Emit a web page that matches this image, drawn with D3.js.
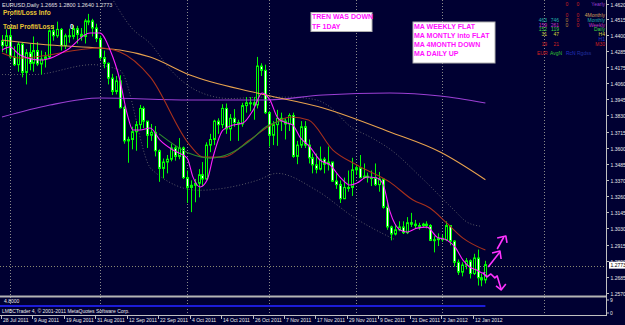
<!DOCTYPE html>
<html>
<head>
<meta charset="utf-8">
<script src="https://cdnjs.cloudflare.com/ajax/libs/d3/7.8.5/d3.min.js"></script>
<style>
  body { margin: 0; background: #000032; }
  svg { display: block; }
</style>
</head>
<body>
<div id="chart"></div>
<script>
// ---- data ----
var dateLabels = ["28 Jul 2011", "9 Aug 2011", "19 Aug 2011", "31 Aug 2011", "12 Sep 2011", "22 Sep 2011",
  "4 Oct 2011", "14 Oct 2011", "26 Oct 2011", "7 Nov 2011", "17 Nov 2011", "29 Nov 2011",
  "9 Dec 2011", "21 Dec 2011", "2 Jan 2012", "12 Jan 2012"];
var priceTicks = [1.4620, 1.4515, 1.4400, 1.4285, 1.4175, 1.4060, 1.3945, 1.3830, 1.3715, 1.3600,
  1.3485, 1.3370, 1.3260, 1.3145, 1.3030, 1.2915, 1.2800, 1.2685, 1.2570];
// month starts (bar index), used for the vertical grid
var monthBars = [2, 25, 47, 68, 90, 112, 138];

var opens = [1.4360,1.4325,1.4395,1.4245,1.4190,1.4335,1.4135,1.4275,1.4200,1.4290,1.4195,1.4230,1.4245,1.4430,1.4395,1.4440,1.4325,1.4395,1.4390,1.4445,
  1.4405,1.4390,1.4500,1.4500,1.4450,1.4375,1.4240,1.4200,1.4095,1.4000,1.4075,1.3885,1.3650,1.3660,1.3715,1.3765,1.3880,1.3790,1.3690,1.3710,
  1.3580,1.3455,1.3500,1.3520,1.3600,1.3540,1.3600,1.3390,1.3320,1.3335,1.3350,1.3410,1.3380,1.3620,1.3660,1.3790,1.3765,1.3880,1.3735,1.3810,
  1.3780,1.3770,1.3900,1.3920,1.3920,1.3905,1.4180,1.4150,1.3850,1.3690,1.3765,1.3810,1.3790,1.3770,1.3830,1.3540,1.3620,1.3750,1.3620,1.3530,
  1.3480,1.3450,1.3520,1.3485,1.3500,1.3365,1.3340,1.3240,1.3320,1.3320,1.3445,1.3460,1.3390,1.3400,1.3390,1.3390,1.3340,1.3380,1.3180,1.3040,
  1.2990,1.3020,1.3040,1.3000,1.3070,1.3060,1.3050,1.3050,1.3060,1.3050,1.2945,1.2950,1.2960,1.2950,1.3050,1.2940,1.2790,1.2720,1.2770,1.2800,
  1.2710,1.2820,1.2680,1.2665];
var highs = [1.4400,1.4440,1.4450,1.4320,1.4350,1.4350,1.4300,1.4340,1.4390,1.4350,1.4290,1.4280,1.4440,1.4470,1.4495,1.4450,1.4410,1.4445,1.4470,1.4465,
  1.4450,1.4515,1.4550,1.4515,1.4480,1.4395,1.4290,1.4205,1.4125,1.4110,1.4115,1.3900,1.3680,1.3750,1.3790,1.3905,1.3895,1.3790,1.3770,1.3755,
  1.3590,1.3525,1.3550,1.3630,1.3620,1.3670,1.3610,1.3440,1.3370,1.3380,1.3450,1.3500,1.3640,1.3700,1.3800,1.3810,1.3910,1.3915,1.3840,1.3875,
  1.3800,1.3920,1.3960,1.3960,1.3960,1.4245,1.4200,1.4190,1.3860,1.3790,1.3870,1.3850,1.3810,1.3845,1.3850,1.3650,1.3790,1.3790,1.3660,1.3560,
  1.3560,1.3610,1.3535,1.3610,1.3500,1.3420,1.3370,1.3390,1.3440,1.3530,1.3485,1.3550,1.3490,1.3425,1.3440,1.3490,1.3430,1.3380,1.3225,1.3050,
  1.3060,1.3080,1.3080,1.3110,1.3140,1.3090,1.3070,1.3070,1.3080,1.3060,1.2975,1.2995,1.2985,1.3080,1.3050,1.2945,1.2810,1.2790,1.2820,1.2810,
  1.2850,1.2880,1.2710,1.2800];
var lows = [1.4280,1.4270,1.4230,1.4180,1.4140,1.4100,1.4050,1.4150,1.4140,1.4180,1.4120,1.4170,1.4235,1.4360,1.4380,1.4290,1.4300,1.4345,1.4370,1.4340,
  1.4360,1.4340,1.4470,1.4390,1.4350,1.4225,1.4165,1.4050,1.3975,1.3980,1.3880,1.3630,1.3495,1.3590,1.3580,1.3730,1.3740,1.3600,1.3650,1.3540,
  1.3360,1.3385,1.3420,1.3505,1.3510,1.3520,1.3380,1.3210,1.3145,1.3215,1.3250,1.3330,1.3370,1.3570,1.3620,1.3700,1.3740,1.3700,1.3650,1.3750,
  1.3650,1.3750,1.3850,1.3860,1.3800,1.3880,1.4110,1.3840,1.3610,1.3620,1.3615,1.3720,1.3660,1.3720,1.3530,1.3485,1.3600,1.3600,1.3490,1.3420,
  1.3420,1.3440,1.3420,1.3440,1.3360,1.3310,1.3210,1.3260,1.3290,1.3260,1.3410,1.3385,1.3385,1.3355,1.3330,1.3330,1.3290,1.3170,1.3020,1.2945,
  1.2980,1.3010,1.2990,1.2990,1.3040,1.3030,1.3020,1.3040,1.3030,1.2940,1.2860,1.2905,1.2935,1.2940,1.2910,1.2760,1.2700,1.2690,1.2740,1.2675,
  1.2700,1.2625,1.2620,1.2640];
var closes = [1.4325,1.4395,1.4245,1.4190,1.4335,1.4135,1.4275,1.4200,1.4290,1.4195,1.4230,1.4245,1.4430,1.4395,1.4440,1.4325,1.4395,1.4390,1.4445,1.4405,
  1.4390,1.4500,1.4500,1.4450,1.4375,1.4240,1.4200,1.4095,1.4000,1.4075,1.3885,1.3650,1.3660,1.3715,1.3765,1.3880,1.3790,1.3690,1.3710,1.3580,
  1.3455,1.3500,1.3520,1.3600,1.3540,1.3600,1.3390,1.3320,1.3335,1.3350,1.3410,1.3380,1.3620,1.3660,1.3790,1.3765,1.3880,1.3735,1.3810,1.3780,
  1.3770,1.3900,1.3920,1.3920,1.3905,1.4180,1.4150,1.3850,1.3690,1.3765,1.3810,1.3790,1.3770,1.3830,1.3540,1.3620,1.3750,1.3620,1.3530,1.3480,
  1.3450,1.3520,1.3485,1.3500,1.3365,1.3340,1.3240,1.3320,1.3320,1.3445,1.3460,1.3390,1.3400,1.3390,1.3390,1.3340,1.3380,1.3180,1.3040,1.2990,
  1.3020,1.3040,1.3000,1.3070,1.3060,1.3050,1.3050,1.3060,1.3050,1.2945,1.2950,1.2960,1.2950,1.3050,1.2940,1.2790,1.2720,1.2770,1.2800,1.2710,
  1.2820,1.2680,1.2665,1.2773];

// moving averages as [bar, price]
var maFast = [[0,1.4294],[2,1.4315],[4.6,1.4258],[9.7,1.4223],[16.5,1.4294],[22.4,1.4414],[24.9,1.4414],[27.5,1.4294],[30,1.4081],
  [31.8,1.3847],[33.3,1.3727],[35.1,1.3727],[37.7,1.3741],[40.2,1.3656],[43.5,1.3585],[47.1,1.3528],[48.6,1.3393],[50.4,1.3323],
  [52.2,1.3372],[53.7,1.3535],[56.2,1.3727],[58.8,1.3762],[61.3,1.3776],[63.9,1.3868],[66.2,1.3989],[68.2,1.3939],[70.2,1.3812],
  [72.5,1.3776],[74,1.3762],[75.8,1.3677],[78.4,1.3606],[80.9,1.3514],[83.5,1.3479],[86,1.3394],[88.5,1.3337],[90.3,1.3351],
  [92.9,1.3394],[95.4,1.3387],[97,1.3340],[98.7,1.3150],[101.3,1.3018],[103.1,1.3004],[105.6,1.3032],[108.1,1.3039],[110.7,1.2968],
  [113.2,1.2947],[115.3,1.2897],[117.3,1.2805],[119.1,1.2755],[120.9,1.2734],[122.4,1.2713],[123,1.2720]];
var ma4Month = [[0,1.4365],[12.2,1.4329],[24.9,1.4308],[30,1.4294],[37.7,1.4244],[47.8,1.4117],[64.9,1.3989],[81.7,1.3883],
  [98.7,1.3713],[111.5,1.3571],[123,1.3375]];
var maYear = [[0,1.3819],[12.2,1.3904],[24.9,1.3954],[47.8,1.3940],[66.7,1.3940],[81.7,1.3975],[98.7,1.3989],[111.5,1.3968],[123,1.3918]];
var maMonth = [[0,1.4273],[4.6,1.4237],[24.9,1.4308],[30,1.4280],[37.7,1.4103],[47.8,1.3620],[51.2,1.3535],[56.2,1.3535],[63,1.3656],
  [68,1.3755],[73.5,1.3819],[78,1.3798],[84.2,1.3585],[90.3,1.3479],[98.7,1.3358],[104.6,1.3231],[108.9,1.3174],[113.2,1.3067],
  [117.3,1.2961],[123,1.2876]];
var maWeek = [[40,1.3700],[47.8,1.3560],[53,1.3528],[58,1.3560],[63,1.3650],[67.5,1.3755],[72,1.3800]];
var bandUpper = [[28,1.4660],[33,1.4450],[37.7,1.4340],[43,1.4150],[50,1.4000],[58,1.3950],[66,1.3960],[73.5,1.3960],[80,1.3940],
  [83.5,1.3890],[88.5,1.3755],[93.7,1.3677],[98.7,1.3592],[107.1,1.3379],[114.8,1.3166],[118.3,1.3075],[121.6,1.3046]];
var bandLower = [[0,1.4120],[8,1.4120],[23,1.4190],[30,1.4150],[38,1.3450],[50,1.3300],[64.9,1.3370],[70,1.3420],[80,1.3300],
  [90,1.3100],[100,1.2950]];

// hand drawn arrows on the right, [bar, price]
var arrowUp1 = [[123.7,1.2756],[126.7,1.2863]];
var arrowUp1Head = [[124.7,1.2856],[126.7,1.2870],[127.0,1.2813]];
var arrowUp2 = [[126.0,1.2884],[127.7,1.2969]];
var arrowUp2Head = [[126.0,1.2962],[128.2,1.2976],[128.5,1.2927]];
var arrowDown = [[122.4,1.2714],[123.4,1.2686],[124.4,1.2707],[125.4,1.2679],[126.0,1.2693],[127.0,1.2601]];
var arrowDownHead = [[125.7,1.2622],[127.0,1.2594],[128.2,1.2636]];

// info panel (top right)
var panelNames = ["Yearly", "4Monthly", "Monthly", "Weekly", "Daily", "H4", "H1", "M30"];
var panelA = ["", "", "463", "159", "152", "31", "", "19"];
var panelB = ["", "", "746", "261", "119", "47", "", "21"];
var panelC = ["0", "0", "0", "0", "", "", "", ""];
var panelD = ["0", "0", "0", "0", "", "", "", ""];
var panelFooter = ["EUR", "AvgN", "RcN", "Rgdss"];

var notes1 = ["TREN WAS DOWN", "TF 1DAY"];
var notes2 = ["MA WEEKLY FLAT", "MA MONTLY into FLAT", "MA 4MONTH DOWN", "MA DAILY UP"];
var lastPrice = 1.2773;
var subValue = 4.8;

// ---- layout ----
var W = 625, H = 325;
var plotRight = 606, mainBottom = 296, subTop = 298, subBottom = 315;
var bg = "#000032", fontFam = "Liberation Sans, Arial, sans-serif";

var svg = d3.select("#chart").append("svg")
    .attr("width", W)
    .attr("height", H);

svg.append("rect").attr("width", W).attr("height", H).attr("fill", bg);

var x = d3.scaleLinear().domain([0, 123]).range([2, 2 + 123 * 3.93]);
var y = d3.scaleLinear().domain([1.2570, 1.4620]).range([293.3, 4]);
var ySub = d3.scaleLinear().domain([0, 9]).range([313, 300]);

var main = svg.append("g");

// vertical grid (dotted, month starts)
main.selectAll(".vgrid")
    .data(monthBars)
  .enter().append("line")
    .attr("x1", function(d) { return Math.round(x(d)) + 0.5; })
    .attr("x2", function(d) { return Math.round(x(d)) + 0.5; })
    .attr("y1", 0).attr("y2", subBottom)
    .attr("stroke", "#8a8a8a")
    .attr("stroke-dasharray", "1,2");

// bid line
main.append("line")
    .attr("x1", 0).attr("x2", plotRight)
    .attr("y1", Math.round(y(lastPrice)) + 1.5).attr("y2", Math.round(y(lastPrice)) + 1.5)
    .attr("stroke", "#8a8a70")
    .attr("stroke-dasharray", "1,2");

var line = d3.line()
    .x(function(d) { return x(d[0]); })
    .y(function(d) { return y(d[1]); })
    .curve(d3.curveMonotoneX);

// dotted bands
[bandUpper, bandLower].forEach(function(b) {
  main.append("path").attr("d", line(b))
      .attr("fill", "none").attr("stroke", "#5a5a66")
      .attr("stroke-dasharray", "1,2");
});

// candles
var bars = d3.range(closes.length);
main.selectAll(".wick")
    .data(bars)
  .enter().append("line")
    .attr("x1", function(i) { return Math.round(x(i)) + 0.5; })
    .attr("x2", function(i) { return Math.round(x(i)) + 0.5; })
    .attr("y1", function(i) { return y(highs[i]); })
    .attr("y2", function(i) { return y(lows[i]); })
    .attr("stroke", "#00ff00");

main.selectAll(".body")
    .data(bars)
  .enter().append("rect")
    .attr("x", function(i) { return Math.round(x(i)) - 0.5; })
    .attr("width", 2)
    .attr("y", function(i) { return y(Math.max(opens[i], closes[i])); })
    .attr("height", function(i) { return Math.max(1, Math.abs(y(opens[i]) - y(closes[i]))); })
    .attr("fill", function(i) { return closes[i] < opens[i] ? "#ffffff" : bg; })
    .attr("stroke", "#00ff00");

// moving averages
var maDefs = [
  {d: maYear, c: "#9b3fd4"},
  {d: ma4Month, c: "#e8a24e"},
  {d: maMonth, c: "#a8301c"},
  {d: maWeek, c: "#2e8b2e"},
  {d: maFast, c: "#ff20ff"}
];
maDefs.forEach(function(m) {
  main.append("path").attr("d", line(m.d))
      .attr("fill", "none").attr("stroke", m.c).attr("stroke-width", 1.1);
});

// drawn arrows
var straight = d3.line()
    .x(function(d) { return x(d[0]); })
    .y(function(d) { return y(d[1]); });
[arrowUp1, arrowUp1Head, arrowUp2, arrowUp2Head, arrowDown, arrowDownHead].forEach(function(a) {
  main.append("path").attr("d", straight(a))
      .attr("fill", "none").attr("stroke", "#ff33ff").attr("stroke-width", 1.6)
      .attr("stroke-linejoin", "round");
});

// ---- texts, top left ----
svg.append("text").attr("x", 2).attr("y", 7)
    .attr("font-family", fontFam).attr("font-size", "5.5px").attr("fill", "#e0e0e0")
    .text("EURUSD,Daily  1.2665 1.2800 1.2640 1.2773");
svg.append("text").attr("x", 3).attr("y", 15)
    .attr("font-family", fontFam).attr("font-size", "6.5px").attr("font-weight", "bold").attr("fill", "#e6c434")
    .text("Profit/Loss Info");
svg.append("text").attr("x", 3).attr("y", 29)
    .attr("font-family", fontFam).attr("font-size", "6.5px").attr("font-weight", "bold").attr("fill", "#e6c434")
    .text("Total Profit/Loss");
svg.append("text").attr("x", 70).attr("y", 29)
    .attr("font-family", fontFam).attr("font-size", "6.5px").attr("font-weight", "bold").attr("fill", "#ffffff")
    .text("0");

// note boxes
function noteBox(lines, bx, by, bw, bh, lh) {
  svg.append("rect").attr("x", bx).attr("y", by).attr("width", bw).attr("height", bh)
      .attr("fill", "#ffffff").attr("stroke", "#b0b0b0");
  svg.selectAll(null).data(lines).enter().append("text")
      .attr("x", bx + 1).attr("y", function(d, i) { return by + 6.5 + i * lh; })
      .attr("font-family", fontFam).attr("font-size", "7px").attr("font-weight", "bold")
      .attr("fill", "#ff10ff")
      .text(function(d) { return d; });
}
noteBox(notes1, 311, 12.5, 61, 19, 10);
noteBox(notes2, 413, 22, 82, 41, 9.3);

// info panel
var rowY = [4, 14.5, 19.5, 24.5, 29.3, 34.2, 39, 43.8];
var nameCol = ["#9a3fd0", "#d6a35a", "#20b0a8", "#c43cc4", "#3fd03f", "#d4d43a", "#2438d0", "#d02020"];
var pg = svg.append("g").attr("font-family", fontFam).attr("font-size", "5px");
panelNames.forEach(function(n, i) {
  var yy = rowY[i] + 2;
  pg.append("text").attr("x", 605).attr("y", yy).attr("text-anchor", "end").attr("fill", nameCol[i]).text(n);
  pg.append("text").attr("x", 547).attr("y", yy).attr("text-anchor", "end").attr("fill", nameCol[i]).text(panelA[i]);
  pg.append("text").attr("x", 559).attr("y", yy).attr("text-anchor", "end").attr("fill", nameCol[i]).text(panelB[i]);
  pg.append("text").attr("x", 567).attr("y", yy).attr("text-anchor", "middle")
      .attr("fill", i < 2 ? "#d02020" : "#c08a3a").text(panelC[i]);
  pg.append("text").attr("x", 578).attr("y", yy).attr("text-anchor", "middle").attr("fill", "#d02020").text(panelD[i]);
});
var footCol = ["#d02020", "#30c030", "#2030c0", "#2030a0"];
var footX = [537, 550, 566, 577];
panelFooter.forEach(function(t, i) {
  pg.append("text").attr("x", footX[i]).attr("y", 55).attr("fill", footCol[i]).text(t);
});

// ---- right price axis ----
svg.append("line").attr("x1", plotRight + 0.5).attr("x2", plotRight + 0.5).attr("y1", 0).attr("y2", subBottom + 1)
    .attr("stroke", "#c0c0c0");
var axisG = svg.append("g").attr("font-family", fontFam).attr("font-size", "5px").attr("fill", "#e8e8e8");
priceTicks.forEach(function(p) {
  var yy = Math.round(y(p)) + 0.5;
  axisG.append("line").attr("x1", plotRight).attr("x2", plotRight + 3).attr("y1", yy).attr("y2", yy).attr("stroke", "#c0c0c0");
  axisG.append("text").attr("x", plotRight + 4.5).attr("y", yy + 2).text(p.toFixed(4));
});
// last price box
svg.append("rect").attr("x", plotRight + 3).attr("y", y(lastPrice) - 3).attr("width", 16).attr("height", 7).attr("fill", "#ffffff");
svg.append("text").attr("x", plotRight + 4.5).attr("y", y(lastPrice) + 2.2)
    .attr("font-family", fontFam).attr("font-size", "5px").attr("fill", "#000000").text(lastPrice.toFixed(4));

// ---- sub window ----
svg.append("line").attr("x1", 0).attr("x2", plotRight).attr("y1", mainBottom + 0.5).attr("y2", mainBottom + 0.5)
    .attr("stroke", "#b4b4b4").attr("stroke-width", 2);
svg.append("line").attr("x1", 0).attr("x2", x(123)).attr("y1", ySub(subValue)).attr("y2", ySub(subValue))
    .attr("stroke", "#1c1cd8").attr("stroke-width", 2);
svg.append("text").attr("x", 4).attr("y", 303).attr("font-family", fontFam).attr("font-size", "5px")
    .attr("fill", "#e8e8e8").text(subValue.toFixed(4));
svg.append("text").attr("x", 2).attr("y", 313).attr("font-family", fontFam).attr("font-size", "5px")
    .attr("fill", "#e8e8e8").text("LMBCTrader 4, \u00a9 2001-2011 MetaQuotes Software Corp.");
[9, 0].forEach(function(v) {
  svg.append("text").attr("x", plotRight + 4).attr("y", ySub(v) + 2).attr("font-family", fontFam)
      .attr("font-size", "5px").attr("fill", "#e8e8e8").text(v);
  svg.append("line").attr("x1", plotRight).attr("x2", plotRight + 3).attr("y1", ySub(v)).attr("y2", ySub(v)).attr("stroke", "#c0c0c0");
});
svg.append("line").attr("x1", 0).attr("x2", plotRight + 1).attr("y1", subBottom + 0.5).attr("y2", subBottom + 0.5)
    .attr("stroke", "#c0c0c0");

// ---- time axis ----
var tg = svg.append("g").attr("font-family", fontFam).attr("font-size", "5px").attr("fill", "#e8e8e8");
dateLabels.forEach(function(t, k) {
  var xx = Math.round(x(k * 8)) - 0.5;
  tg.append("line").attr("x1", xx).attr("x2", xx).attr("y1", subBottom).attr("y2", subBottom + 4).attr("stroke", "#c0c0c0");
  tg.append("text").attr("x", xx + 1.5).attr("y", 322).text(t);
});
</script>
</body>
</html>
